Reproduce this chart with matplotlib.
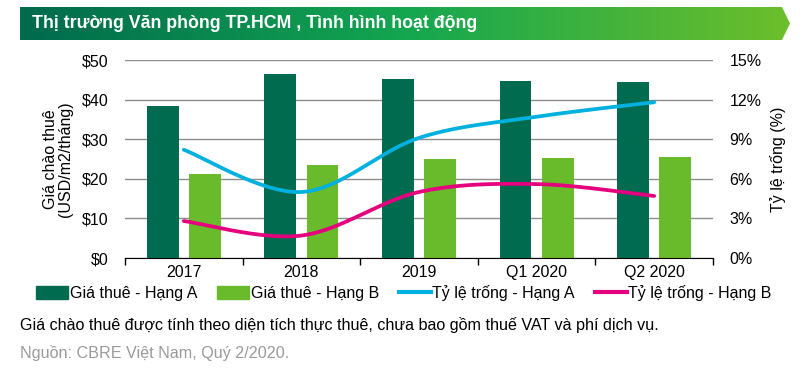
import numpy as np
import matplotlib
matplotlib.use("Agg")
import matplotlib.pyplot as plt
from matplotlib.patches import Patch, Polygon
from matplotlib.lines import Line2D
from matplotlib.colors import LinearSegmentedColormap

categories = ["2017", "2018", "2019", "Q1 2020", "Q2 2020"]
rent_a = [38.4, 46.5, 45.2, 44.7, 44.4]
rent_b = [21.2, 23.5, 25.0, 25.3, 25.5]
vacancy_a = [8.2, 5.0, 9.1, 10.7, 11.8]
vacancy_b = [2.8, 1.7, 5.0, 5.6, 4.7]
left_ticks = [0, 10, 20, 30, 40, 50]
right_ticks = [0, 3, 6, 9, 12, 15]

DARK = "#006B4E"
LIGHT = "#6ABB2C"
CYAN = "#00B0DF"
PINK = "#E5007E"

FONT = ["Liberation Sans", "DejaVu Sans"]
NARROW = ["Liberation Sans Narrow", "Liberation Sans", "DejaVu Sans"]
plt.rcParams["font.family"] = FONT
FS = 11.5


def smooth(xs, ys, n=40):
    # Catmull-Rom, like Excel's smoothed line
    p = np.column_stack([xs, ys]).astype(float)
    p = np.vstack([p[0], p, p[-1]])
    out = []
    for i in range(1, len(p) - 2):
        p0, p1, p2, p3 = p[i - 1], p[i], p[i + 1], p[i + 2]
        t = np.linspace(0, 1, n)[:, None]
        c1 = p1 + (p2 - p0) / 6
        c2 = p2 - (p3 - p1) / 6
        seg = ((1 - t) ** 3) * p1 + 3 * ((1 - t) ** 2) * t * c1 + 3 * (1 - t) * t ** 2 * c2 + t ** 3 * p2
        out.append(seg)
    out = np.vstack(out)
    return out[:, 0], out[:, 1]


fig = plt.figure(figsize=(8.09, 3.69), dpi=100)

# title banner with gradient
bx = fig.add_axes([20 / 809, 1 - 40 / 369, 770 / 809, 33 / 369])
bx.set_xlim(0, 1)
bx.set_ylim(0, 1)
bx.axis("off")
cmap = LinearSegmentedColormap.from_list("banner", ["#006A4D", "#14A651", "#6DBE2B"])
grad = np.linspace(0, 1, 256)[None, :]
im = bx.imshow(grad, cmap=cmap, extent=[0, 1, 0, 1], aspect="auto")
tip = 8 / 770
clip = Polygon([[0, 0], [1 - tip, 0], [1, 0.5], [1 - tip, 1], [0, 1]], transform=bx.transAxes,
               facecolor="none", edgecolor="none")
bx.add_patch(clip)
im.set_clip_path(clip)
bx.text(12 / 770, 0.5, "Thị trường Văn phòng TP.HCM , Tình hình hoạt động", color="white",
        fontsize=12.8, fontweight="bold", va="center", ha="left", family=NARROW)

ax = fig.add_axes([125 / 809, 1 - 258 / 369, 588 / 809, 198 / 369])
x = np.arange(len(categories))
w = 0.27
ax.bar(x - 0.18, rent_a, w, color=DARK, zorder=3)
ax.bar(x + 0.18, rent_b, w, color=LIGHT, zorder=3)
ax.set_xlim(-0.5, len(categories) - 0.5)
ax.set_ylim(0, 50)
ax.set_yticks(left_ticks)
ax.set_yticklabels(["${}".format(v) for v in left_ticks], fontsize=FS)
ax.tick_params(axis="y", length=0, pad=12)
ax.yaxis.grid(True, color="#8C8C8C", linewidth=1, zorder=0)
ax.set_xticks(x)
ax.set_xticklabels(categories, fontsize=FS)
ax.set_xticks(np.arange(len(categories) + 1) - 0.5, minor=True)
ax.tick_params(axis="x", which="major", length=0, pad=5)
ax.tick_params(axis="x", which="minor", length=5, width=1, color="black")
for s in ["left", "right", "top"]:
    ax.spines[s].set_visible(False)
ax.spines["bottom"].set_color("black")
ax.spines["bottom"].set_zorder(5)
ax.set_ylabel("Giá chào thuê\n(USD/m2/tháng)", fontsize=FS, labelpad=6, linespacing=1.0)

ax2 = ax.twinx()
ax2.set_ylim(0, 15)
ax2.set_yticks(right_ticks)
ax2.set_yticklabels(["{}%".format(v) for v in right_ticks], fontsize=FS)
ax2.tick_params(axis="y", length=0, pad=12)
for s in ["left", "right", "top", "bottom"]:
    ax2.spines[s].set_visible(False)
sx, sy = smooth(x, vacancy_a)
ax2.plot(sx, sy, color=CYAN, linewidth=2.7, solid_capstyle="round")
sx, sy = smooth(x, vacancy_b)
ax2.plot(sx, sy, color=PINK, linewidth=2.7, solid_capstyle="round")
ax2.set_ylabel("Tỷ lệ trống (%)", fontsize=FS, rotation=90, labelpad=6)

handles = [
    Patch(color=DARK, label="Giá thuê - Hạng A"),
    Patch(color=LIGHT, label="Giá thuê - Hạng B"),
    Line2D([], [], color=CYAN, linewidth=3, label="Tỷ lệ trống - Hạng A"),
    Line2D([], [], color=PINK, linewidth=3, label="Tỷ lệ trống - Hạng B"),
]
fig.legend(handles=handles, loc="center", bbox_to_anchor=(404 / 809, 1 - 293 / 369), ncol=4,
           frameon=False, fontsize=FS, handlelength=2.0, handleheight=0.8, handletextpad=0.1,
           columnspacing=1.25, borderpad=0)

fig.text(20 / 809, 1 - 325 / 369, "Giá chào thuê được tính theo diện tích thực thuê, chưa bao gồm thuế VAT và phí dịch vụ.",
         fontsize=11.6, va="center", ha="left", color="black", family=NARROW)
fig.text(20 / 809, 1 - 353 / 369, "Nguồn: CBRE Việt Nam, Quý 2/2020.", fontsize=11.6, va="center",
         ha="left", color="#9A9A9A", family=NARROW)

fig.savefig("out.png", dpi=100)
